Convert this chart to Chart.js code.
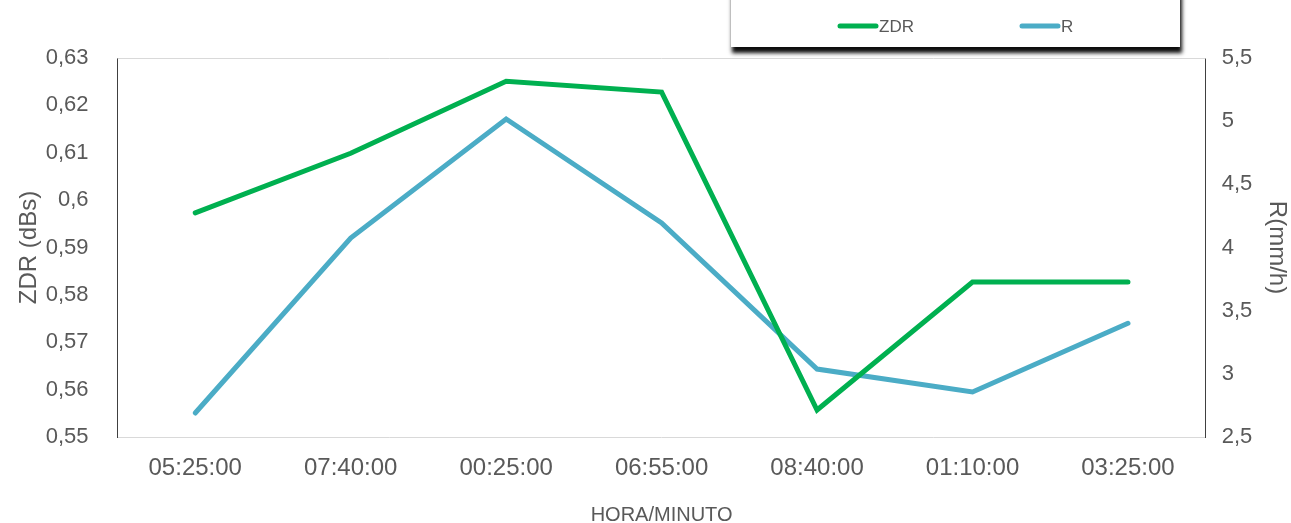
<!DOCTYPE html>
<html>
<head>
<meta charset="utf-8">
<script src="https://cdn.jsdelivr.net/npm/chart.js@4/dist/chart.umd.min.js"></script>
<style>
	html, body { margin: 0; padding: 0; background: #ffffff; }
	#wrap { position: relative; width: 1291px; height: 523px; }
</style>
</head>
<body>
<div id="wrap"><canvas id="chart" width="1291" height="523"></canvas></div>
<script>
// =====================================
// DATA
// =====================================
const horaLabels = ['05:25:00', '07:40:00', '00:25:00', '06:55:00', '08:40:00', '01:10:00', '03:25:00'];
const zdrValues = [0.5973, 0.6099, 0.6251, 0.6228, 0.5557, 0.5827, 0.5827];
const rValues = [2.69, 4.075, 5.017, 4.194, 3.038, 2.856, 3.40];

const zdrTicks = [0.55, 0.56, 0.57, 0.58, 0.59, 0.6, 0.61, 0.62, 0.63];
const rTicks = [2.5, 3, 3.5, 4, 4.5, 5, 5.5];

const FONT = "'Liberation Sans', Arial, sans-serif";
const TEXT_COLOR = '#595959';
const ZDR_COLOR = '#00b050';
const R_COLOR = '#4bacc6';

const formatComma = (v) => String(Number(v.toFixed(2))).replace('.', ',');

// caixa de legenda com sombra, igual ao Excel
const legendBox = {
	id: 'legendBox',
	afterDraw(chart) {
		const ctx = chart.ctx;
		ctx.save();
		ctx.shadowColor = 'rgba(0,0,0,0.95)';
		ctx.shadowBlur = 4;
		ctx.shadowOffsetX = 2;
		ctx.shadowOffsetY = 6;
		ctx.fillStyle = '#ffffff';
		ctx.fillRect(730, -10, 450, 57);
		ctx.restore();

		ctx.save();
		ctx.strokeStyle = '#bfbfbf';
		ctx.lineWidth = 1;
		ctx.beginPath();
		ctx.moveTo(730.5, 0);
		ctx.lineTo(730.5, 47);
		ctx.stroke();

		const items = [
			{ x: 840, ds: chart.data.datasets[0] },
			{ x: 1022, ds: chart.data.datasets[1] },
		];
		items.forEach((it) => {
			ctx.strokeStyle = it.ds.borderColor;
			ctx.lineWidth = 5;
			ctx.lineCap = 'round';
			ctx.beginPath();
			ctx.moveTo(it.x, 26);
			ctx.lineTo(it.x + 36, 26);
			ctx.stroke();
			ctx.fillStyle = TEXT_COLOR;
			ctx.font = `17px ${FONT}`;
			ctx.textBaseline = 'middle';
			ctx.textAlign = 'left';
			ctx.fillText(it.ds.label, it.x + 39, 27);
		});
		ctx.restore();
	},
	beforeDatasetsDraw(chart) {
		const { ctx, chartArea } = chart;
		ctx.save();
		ctx.strokeStyle = '#d9d9d9';
		ctx.lineWidth = 1;
		ctx.beginPath();
		ctx.moveTo(chartArea.left, Math.round(chartArea.top) + 0.5);
		ctx.lineTo(chartArea.right, Math.round(chartArea.top) + 0.5);
		ctx.stroke();
		ctx.restore();
	},
};

new Chart(document.getElementById('chart'), {
	type: 'line',
	data: {
		labels: horaLabels,
		datasets: [
			{
				label: 'ZDR',
				data: zdrValues,
				borderColor: ZDR_COLOR,
				backgroundColor: ZDR_COLOR,
				borderWidth: 5,
				pointRadius: 0,
				tension: 0,
				borderCapStyle: 'round',
				borderJoinStyle: 'miter',
				yAxisID: 'y',
			},
			{
				label: 'R',
				data: rValues,
				borderColor: R_COLOR,
				backgroundColor: R_COLOR,
				borderWidth: 5,
				pointRadius: 0,
				tension: 0,
				borderCapStyle: 'round',
				borderJoinStyle: 'miter',
				yAxisID: 'y1',
			},
		],
	},
	options: {
		responsive: false,
		animation: false,
		layout: { padding: { top: 58, left: 0, right: 0, bottom: 0 } },
		plugins: {
			legend: { display: false },
			tooltip: { enabled: false },
		},
		scales: {
			x: {
				offset: true,
				grid: { display: false, drawTicks: false },
				border: { display: true, color: '#d9d9d9', width: 1 },
				ticks: {
					color: TEXT_COLOR,
					padding: 17,
					maxRotation: 0,
					font: { family: FONT, size: 24 },
				},
				title: {
					display: true,
					text: 'HORA/MINUTO',
					color: TEXT_COLOR,
					font: { family: FONT, size: 20, lineHeight: 0.8 },
					padding: { top: 0, bottom: 0 },
				},
				afterFit: (scale) => { scale.height = 86; },
			},
			y: {
				position: 'left',
				min: 0.55,
				max: 0.63,
				afterBuildTicks: (scale) => { scale.ticks = zdrTicks.map((v) => ({ value: v })); },
				grid: { display: false, drawTicks: false },
				border: { display: true, color: '#404040', width: 1 },
				ticks: {
					color: TEXT_COLOR,
					padding: 29,
					font: { family: FONT, size: 22 },
					callback: (v) => formatComma(v),
				},
				title: {
					display: true,
					text: 'ZDR (dBs)',
					color: TEXT_COLOR,
					font: { family: FONT, size: 24, lineHeight: 1.2 },
					padding: { top: 15, bottom: 0 },
				},
				afterFit: (scale) => { scale.width = 117.5; },
			},
			y1: {
				position: 'right',
				min: 2.5,
				max: 5.5,
				afterBuildTicks: (scale) => { scale.ticks = rTicks.map((v) => ({ value: v })); },
				grid: { display: false, drawTicks: false },
				border: { display: true, color: '#404040', width: 1 },
				ticks: {
					color: TEXT_COLOR,
					padding: 16,
					font: { family: FONT, size: 22 },
					callback: (v) => formatComma(v),
				},
				title: {
					display: true,
					text: 'R(mm/h)',
					color: TEXT_COLOR,
					font: { family: FONT, size: 24, lineHeight: 1.2 },
					padding: { top: 0, bottom: 0 },
				},
				afterFit: (scale) => { scale.width = 85.3; },
			},
		},
	},
	plugins: [legendBox],
});
</script>
</body>
</html>
